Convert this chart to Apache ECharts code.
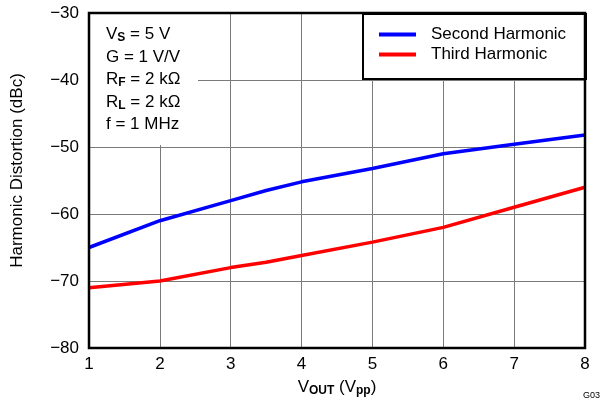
<!DOCTYPE html>
<html lang="en">

<head>
    <meta charset="UTF-8">
    <title>Harmonic Distortion vs Output Voltage</title>
    <style>
        html, body { margin: 0; padding: 0; background: #fff; }
        #chart { width: 602px; height: 402px; }
    </style>
    <script src="https://cdn.jsdelivr.net/npm/echarts@6/dist/echarts.min.js"></script>
</head>

<body>
    <div id="chart"></div>
    <script>
        // data: [Vout (Vpp), dBc]
        var secondHarmonic = [[1, -65], [2, -61], [3, -58], [3.5, -56.5], [4, -55.2], [5, -53.2], [6, -51], [7, -49.6], [8, -48.2]];
        var thirdHarmonic = [[1, -71], [2, -70], [3, -68], [3.5, -67.2], [4, -66.2], [5, -64.2], [6, -62], [7, -59], [8, -56]];
        var seriesNames = ['Second Harmonic', 'Third Harmonic'];
        var xTicks = [1, 2, 3, 4, 5, 6, 7, 8];
        var yTicks = [-80, -70, -60, -50, -40, -30];

        var font = 'Liberation Sans, Arial, sans-serif';
        var fs = 17;

        echarts.init(document.getElementById('chart')).setOption({
            animation: false,
            textStyle: { fontFamily: font },
            grid: {
                left: 89,
                right: 17,
                top: 13,
                bottom: 54,
                show: true,
                borderColor: '#000',
                borderWidth: 2.5,
                z: 5
            },
            xAxis: {
                type: 'value',
                min: xTicks[0],
                max: xTicks[xTicks.length - 1],
                interval: 1,
                axisLine: { show: false },
                axisTick: { show: false },
                axisLabel: { color: '#000', fontSize: fs, margin: 8, fontFamily: font },
                splitLine: { lineStyle: { color: '#7a7a7a', width: 1 } },
                name: '{a|V}{b|OUT}{a| (V}{c|pp}{a|)}',
                nameLocation: 'middle',
                nameGap: 30,
                nameTextStyle: {
                    rich: {
                        a: { fontSize: fs, color: '#000', fontFamily: font },
                        b: { fontSize: 12, fontWeight: 'bold', color: '#000', fontFamily: font, padding: [7, 0, 0, 0] },
                        c: { fontSize: 12, fontWeight: 'bold', color: '#000', fontFamily: font, padding: [7, 0, 0, 0] }
                    }
                }
            },
            yAxis: {
                type: 'value',
                min: yTicks[0],
                max: yTicks[yTicks.length - 1],
                interval: 10,
                axisLine: { show: false },
                axisTick: { show: false },
                axisLabel: {
                    color: '#000', fontSize: fs, margin: 10, fontFamily: font,
                    formatter: function (v) { return String(v).replace('-', '\u2212'); }
                },
                splitLine: { lineStyle: { color: '#7a7a7a', width: 1 } },
                name: 'Harmonic Distortion (dBc)',
                nameLocation: 'middle',
                nameGap: 63,
                nameTextStyle: { color: '#000', fontSize: fs, fontFamily: font, padding: [0, 0, 0, 20] }
            },
            legend: {
                left: 374,
                top: 21,
                orient: 'vertical',
                itemGap: 3,
                itemWidth: 37,
                itemHeight: 4,
                icon: 'rect',
                textStyle: { color: '#000', fontSize: fs, fontFamily: font, padding: [0, 0, 0, 10] },
                data: seriesNames
            },
            graphic: [
                // conditions box (covers grid lines)
                {
                    type: 'rect',
                    left: 90, top: 14, z: 4,
                    shape: { width: 108, height: 131 },
                    style: { fill: '#fff' }
                },
                {
                    type: 'text',
                    left: 106, top: 25, z: 6,
                    style: {
                        text: '{a|V}{s|S}{a| = 5 V}\n{a|G = 1 V/V}\n{a|R}{s|F}{a| = 2 kΩ}\n{a|R}{s|L}{a| = 2 kΩ}\n{a|f = 1 MHz}',
                        rich: {
                            a: { fontSize: fs, fill: '#000', fontFamily: font, lineHeight: 22.5 },
                            s: { fontSize: 12, fontWeight: 'bold', fill: '#000', fontFamily: font, lineHeight: 22.5, padding: [7, 0, 0, 0] }
                        }
                    }
                },
                // legend box
                {
                    type: 'rect',
                    left: 362, top: 13, z: 4,
                    shape: { width: 223, height: 65 },
                    style: { fill: '#fff', stroke: '#000', lineWidth: 2 }
                },
                {
                    type: 'text',
                    left: 583, top: 391,
                    style: { text: 'G03', fontSize: 9, fill: '#000', fontFamily: font }
                }
            ],
            series: [
                {
                    name: seriesNames[0],
                    type: 'line',
                    showSymbol: false,
                    z: 3,
                    itemStyle: { color: '#0000ff' },
                    lineStyle: { color: '#0000ff', width: 3.5 },
                    data: secondHarmonic
                },
                {
                    name: seriesNames[1],
                    type: 'line',
                    showSymbol: false,
                    z: 3,
                    itemStyle: { color: '#ff0000' },
                    lineStyle: { color: '#ff0000', width: 3.5 },
                    data: thirdHarmonic
                }
            ]
        });
    </script>
</body>

</html>
